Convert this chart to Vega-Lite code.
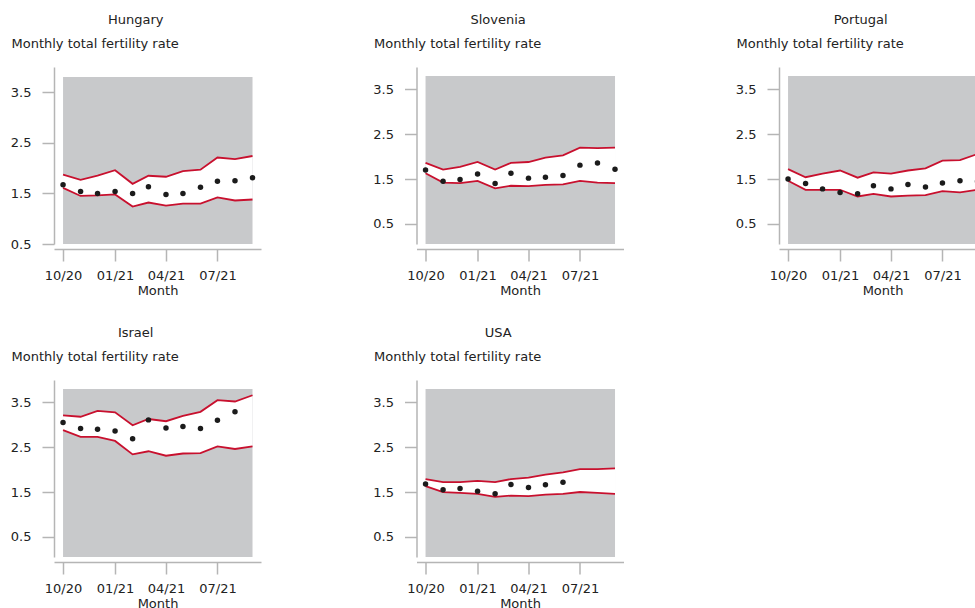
{
  "$schema": "https://vega.github.io/schema/vega-lite/v6.json",
  "padding": {"left": 10, "top": 14, "right": 0, "bottom": 0},
  "datasets": {
    "frame": [
      {"country": "Hungary", "month": "2020-10-01", "end": "2021-09-01", "lo": 0.5, "hi": 3.8},
      {"country": "Slovenia", "month": "2020-10-01", "end": "2021-09-01", "lo": 0.05, "hi": 3.8},
      {"country": "Portugal", "month": "2020-10-01", "end": "2021-09-01", "lo": 0.05, "hi": 3.8},
      {"country": "Israel", "month": "2020-10-01", "end": "2021-09-01", "lo": 0.05, "hi": 3.8},
      {"country": "USA", "month": "2020-10-01", "end": "2021-09-01", "lo": 0.05, "hi": 3.8}
    ],
    "tfr": [
      {"country": "Hungary", "month": "2020-10-01", "lower": 1.61, "upper": 1.87, "observed": 1.67},
      {"country": "Hungary", "month": "2020-11-01", "lower": 1.45, "upper": 1.77, "observed": 1.54},
      {"country": "Hungary", "month": "2020-12-01", "lower": 1.46, "upper": 1.85, "observed": 1.50},
      {"country": "Hungary", "month": "2021-01-01", "lower": 1.48, "upper": 1.96, "observed": 1.54},
      {"country": "Hungary", "month": "2021-02-01", "lower": 1.24, "upper": 1.69, "observed": 1.50},
      {"country": "Hungary", "month": "2021-03-01", "lower": 1.32, "upper": 1.85, "observed": 1.63},
      {"country": "Hungary", "month": "2021-04-01", "lower": 1.26, "upper": 1.83, "observed": 1.48},
      {"country": "Hungary", "month": "2021-05-01", "lower": 1.30, "upper": 1.94, "observed": 1.50},
      {"country": "Hungary", "month": "2021-06-01", "lower": 1.30, "upper": 1.97, "observed": 1.62},
      {"country": "Hungary", "month": "2021-07-01", "lower": 1.42, "upper": 2.21, "observed": 1.74},
      {"country": "Hungary", "month": "2021-08-01", "lower": 1.36, "upper": 2.18, "observed": 1.75},
      {"country": "Hungary", "month": "2021-09-01", "lower": 1.38, "upper": 2.24, "observed": 1.81},

      {"country": "Slovenia", "month": "2020-10-01", "lower": 1.63, "upper": 1.86, "observed": 1.70},
      {"country": "Slovenia", "month": "2020-11-01", "lower": 1.42, "upper": 1.71, "observed": 1.45},
      {"country": "Slovenia", "month": "2020-12-01", "lower": 1.41, "upper": 1.77, "observed": 1.49},
      {"country": "Slovenia", "month": "2021-01-01", "lower": 1.46, "upper": 1.88, "observed": 1.61},
      {"country": "Slovenia", "month": "2021-02-01", "lower": 1.29, "upper": 1.71, "observed": 1.40},
      {"country": "Slovenia", "month": "2021-03-01", "lower": 1.35, "upper": 1.86, "observed": 1.63},
      {"country": "Slovenia", "month": "2021-04-01", "lower": 1.34, "upper": 1.88, "observed": 1.52},
      {"country": "Slovenia", "month": "2021-05-01", "lower": 1.37, "upper": 1.98, "observed": 1.54},
      {"country": "Slovenia", "month": "2021-06-01", "lower": 1.38, "upper": 2.03, "observed": 1.58},
      {"country": "Slovenia", "month": "2021-07-01", "lower": 1.46, "upper": 2.20, "observed": 1.81},
      {"country": "Slovenia", "month": "2021-08-01", "lower": 1.42, "upper": 2.19, "observed": 1.86},
      {"country": "Slovenia", "month": "2021-09-01", "lower": 1.41, "upper": 2.20, "observed": 1.72},

      {"country": "Portugal", "month": "2020-10-01", "lower": 1.46, "upper": 1.72, "observed": 1.50},
      {"country": "Portugal", "month": "2020-11-01", "lower": 1.26, "upper": 1.54, "observed": 1.40},
      {"country": "Portugal", "month": "2020-12-01", "lower": 1.26, "upper": 1.62, "observed": 1.28},
      {"country": "Portugal", "month": "2021-01-01", "lower": 1.26, "upper": 1.69, "observed": 1.20},
      {"country": "Portugal", "month": "2021-02-01", "lower": 1.11, "upper": 1.53, "observed": 1.17},
      {"country": "Portugal", "month": "2021-03-01", "lower": 1.17, "upper": 1.65, "observed": 1.35},
      {"country": "Portugal", "month": "2021-04-01", "lower": 1.11, "upper": 1.62, "observed": 1.28},
      {"country": "Portugal", "month": "2021-05-01", "lower": 1.13, "upper": 1.69, "observed": 1.38},
      {"country": "Portugal", "month": "2021-06-01", "lower": 1.14, "upper": 1.74, "observed": 1.32},
      {"country": "Portugal", "month": "2021-07-01", "lower": 1.23, "upper": 1.91, "observed": 1.41},
      {"country": "Portugal", "month": "2021-08-01", "lower": 1.20, "upper": 1.92, "observed": 1.46},
      {"country": "Portugal", "month": "2021-09-01", "lower": 1.26, "upper": 2.06, "observed": 1.45},

      {"country": "Israel", "month": "2020-10-01", "lower": 2.88, "upper": 3.21, "observed": 3.05},
      {"country": "Israel", "month": "2020-11-01", "lower": 2.73, "upper": 3.18, "observed": 2.92},
      {"country": "Israel", "month": "2020-12-01", "lower": 2.73, "upper": 3.31, "observed": 2.90},
      {"country": "Israel", "month": "2021-01-01", "lower": 2.64, "upper": 3.28, "observed": 2.86},
      {"country": "Israel", "month": "2021-02-01", "lower": 2.34, "upper": 2.99, "observed": 2.69},
      {"country": "Israel", "month": "2021-03-01", "lower": 2.41, "upper": 3.13, "observed": 3.11},
      {"country": "Israel", "month": "2021-04-01", "lower": 2.31, "upper": 3.08, "observed": 2.93},
      {"country": "Israel", "month": "2021-05-01", "lower": 2.36, "upper": 3.20, "observed": 2.96},
      {"country": "Israel", "month": "2021-06-01", "lower": 2.37, "upper": 3.29, "observed": 2.92},
      {"country": "Israel", "month": "2021-07-01", "lower": 2.52, "upper": 3.55, "observed": 3.10},
      {"country": "Israel", "month": "2021-08-01", "lower": 2.46, "upper": 3.52, "observed": 3.29},
      {"country": "Israel", "month": "2021-09-01", "lower": 2.52, "upper": 3.66, "observed": null},

      {"country": "USA", "month": "2020-10-01", "lower": 1.63, "upper": 1.79, "observed": 1.68},
      {"country": "USA", "month": "2020-11-01", "lower": 1.50, "upper": 1.72, "observed": 1.55},
      {"country": "USA", "month": "2020-12-01", "lower": 1.48, "upper": 1.72, "observed": 1.58},
      {"country": "USA", "month": "2021-01-01", "lower": 1.46, "upper": 1.75, "observed": 1.52},
      {"country": "USA", "month": "2021-02-01", "lower": 1.39, "upper": 1.72, "observed": 1.46},
      {"country": "USA", "month": "2021-03-01", "lower": 1.42, "upper": 1.79, "observed": 1.67},
      {"country": "USA", "month": "2021-04-01", "lower": 1.41, "upper": 1.82, "observed": 1.60},
      {"country": "USA", "month": "2021-05-01", "lower": 1.44, "upper": 1.89, "observed": 1.66},
      {"country": "USA", "month": "2021-06-01", "lower": 1.46, "upper": 1.94, "observed": 1.72},
      {"country": "USA", "month": "2021-07-01", "lower": 1.50, "upper": 2.01, "observed": null},
      {"country": "USA", "month": "2021-08-01", "lower": 1.48, "upper": 2.01, "observed": null},
      {"country": "USA", "month": "2021-09-01", "lower": 1.46, "upper": 2.03, "observed": null}
    ]
  },
  "columns": 3,
  "bounds": "flush",
  "spacing": {"row": 136, "column": 155.5},
  "concat": [
    {
      "title": "Hungary",
      "width": 207, "height": 177,
      "data": {"name": "tfr"},
      "transform": [{"filter": "datum.country === 'Hungary'"}],
      "encoding": {
        "x": {"field": "month", "type": "temporal",
              "scale": {"type": "utc", "domain": [{"year": 2020, "month": 9, "date": 15, "utc": true}, {"year": 2021, "month": 9, "date": 16, "utc": true}]},
              "axis": {"title": "Month", "format": "%m/%y", "values": [{"year": 2020, "month": 10, "date": 1, "utc": true}, {"year": 2021, "month": 1, "date": 1, "utc": true}, {"year": 2021, "month": 4, "date": 1, "utc": true}, {"year": 2021, "month": 7, "date": 1, "utc": true}]}},
        "y": {"field": "lower", "type": "quantitative", "scale": {"domain": [0.5, 4]},
              "axis": {"title": "Monthly total fertility rate", "values": [0.5, 1.5, 2.5, 3.5], "format": ".1f"}}
      },
      "layer": [
        {"data": {"name": "frame"}, "transform": [{"filter": "datum.country === 'Hungary'"}],
         "mark": {"type": "rect", "color": "#c8c9cb"},
         "encoding": {"x2": {"field": "end"}, "y": {"field": "lo", "type": "quantitative"}, "y2": {"field": "hi"}}},
        {"mark": {"type": "area", "color": "#ffffff", "opacity": 1}, "encoding": {"y2": {"field": "upper"}}},
        {"mark": {"type": "line", "color": "#c8102e", "strokeWidth": 1.8}, "encoding": {}},
        {"mark": {"type": "line", "color": "#c8102e", "strokeWidth": 1.8}, "encoding": {"y": {"field": "upper", "type": "quantitative"}}},
        {"transform": [{"filter": "isValid(datum.observed)"}],
         "mark": {"type": "circle", "size": 30, "color": "#1b1b1b", "opacity": 1},
         "encoding": {"y": {"field": "observed", "type": "quantitative"}}}
      ]
    },
    {
      "title": "Slovenia",
      "width": 207, "height": 177,
      "data": {"name": "tfr"},
      "transform": [{"filter": "datum.country === 'Slovenia'"}],
      "encoding": {
        "x": {"field": "month", "type": "temporal",
              "scale": {"type": "utc", "domain": [{"year": 2020, "month": 9, "date": 15, "utc": true}, {"year": 2021, "month": 9, "date": 16, "utc": true}]},
              "axis": {"title": "Month", "format": "%m/%y", "values": [{"year": 2020, "month": 10, "date": 1, "utc": true}, {"year": 2021, "month": 1, "date": 1, "utc": true}, {"year": 2021, "month": 4, "date": 1, "utc": true}, {"year": 2021, "month": 7, "date": 1, "utc": true}]}},
        "y": {"field": "lower", "type": "quantitative", "scale": {"domain": [0.05, 4]},
              "axis": {"title": "Monthly total fertility rate", "values": [0.5, 1.5, 2.5, 3.5], "format": ".1f"}}
      },
      "layer": [
        {"data": {"name": "frame"}, "transform": [{"filter": "datum.country === 'Slovenia'"}],
         "mark": {"type": "rect", "color": "#c8c9cb"},
         "encoding": {"x2": {"field": "end"}, "y": {"field": "lo", "type": "quantitative"}, "y2": {"field": "hi"}}},
        {"mark": {"type": "area", "color": "#ffffff", "opacity": 1}, "encoding": {"y2": {"field": "upper"}}},
        {"mark": {"type": "line", "color": "#c8102e", "strokeWidth": 1.8}, "encoding": {}},
        {"mark": {"type": "line", "color": "#c8102e", "strokeWidth": 1.8}, "encoding": {"y": {"field": "upper", "type": "quantitative"}}},
        {"transform": [{"filter": "isValid(datum.observed)"}],
         "mark": {"type": "circle", "size": 30, "color": "#1b1b1b", "opacity": 1},
         "encoding": {"y": {"field": "observed", "type": "quantitative"}}}
      ]
    },
    {
      "title": "Portugal",
      "width": 207, "height": 177,
      "data": {"name": "tfr"},
      "transform": [{"filter": "datum.country === 'Portugal'"}],
      "encoding": {
        "x": {"field": "month", "type": "temporal",
              "scale": {"type": "utc", "domain": [{"year": 2020, "month": 9, "date": 15, "utc": true}, {"year": 2021, "month": 9, "date": 16, "utc": true}]},
              "axis": {"title": "Month", "format": "%m/%y", "values": [{"year": 2020, "month": 10, "date": 1, "utc": true}, {"year": 2021, "month": 1, "date": 1, "utc": true}, {"year": 2021, "month": 4, "date": 1, "utc": true}, {"year": 2021, "month": 7, "date": 1, "utc": true}]}},
        "y": {"field": "lower", "type": "quantitative", "scale": {"domain": [0.05, 4]},
              "axis": {"title": "Monthly total fertility rate", "values": [0.5, 1.5, 2.5, 3.5], "format": ".1f"}}
      },
      "layer": [
        {"data": {"name": "frame"}, "transform": [{"filter": "datum.country === 'Portugal'"}],
         "mark": {"type": "rect", "color": "#c8c9cb"},
         "encoding": {"x2": {"field": "end"}, "y": {"field": "lo", "type": "quantitative"}, "y2": {"field": "hi"}}},
        {"mark": {"type": "area", "color": "#ffffff", "opacity": 1}, "encoding": {"y2": {"field": "upper"}}},
        {"mark": {"type": "line", "color": "#c8102e", "strokeWidth": 1.8}, "encoding": {}},
        {"mark": {"type": "line", "color": "#c8102e", "strokeWidth": 1.8}, "encoding": {"y": {"field": "upper", "type": "quantitative"}}},
        {"transform": [{"filter": "isValid(datum.observed)"}],
         "mark": {"type": "circle", "size": 30, "color": "#1b1b1b", "opacity": 1},
         "encoding": {"y": {"field": "observed", "type": "quantitative"}}}
      ]
    },
    {
      "title": "Israel",
      "width": 207, "height": 177,
      "data": {"name": "tfr"},
      "transform": [{"filter": "datum.country === 'Israel'"}],
      "encoding": {
        "x": {"field": "month", "type": "temporal",
              "scale": {"type": "utc", "domain": [{"year": 2020, "month": 9, "date": 15, "utc": true}, {"year": 2021, "month": 9, "date": 16, "utc": true}]},
              "axis": {"title": "Month", "format": "%m/%y", "values": [{"year": 2020, "month": 10, "date": 1, "utc": true}, {"year": 2021, "month": 1, "date": 1, "utc": true}, {"year": 2021, "month": 4, "date": 1, "utc": true}, {"year": 2021, "month": 7, "date": 1, "utc": true}]}},
        "y": {"field": "lower", "type": "quantitative", "scale": {"domain": [0.05, 4]},
              "axis": {"title": "Monthly total fertility rate", "values": [0.5, 1.5, 2.5, 3.5], "format": ".1f"}}
      },
      "layer": [
        {"data": {"name": "frame"}, "transform": [{"filter": "datum.country === 'Israel'"}],
         "mark": {"type": "rect", "color": "#c8c9cb"},
         "encoding": {"x2": {"field": "end"}, "y": {"field": "lo", "type": "quantitative"}, "y2": {"field": "hi"}}},
        {"mark": {"type": "area", "color": "#ffffff", "opacity": 1}, "encoding": {"y2": {"field": "upper"}}},
        {"mark": {"type": "line", "color": "#c8102e", "strokeWidth": 1.8}, "encoding": {}},
        {"mark": {"type": "line", "color": "#c8102e", "strokeWidth": 1.8}, "encoding": {"y": {"field": "upper", "type": "quantitative"}}},
        {"transform": [{"filter": "isValid(datum.observed)"}],
         "mark": {"type": "circle", "size": 30, "color": "#1b1b1b", "opacity": 1},
         "encoding": {"y": {"field": "observed", "type": "quantitative"}}}
      ]
    },
    {
      "title": "USA",
      "width": 207, "height": 177,
      "data": {"name": "tfr"},
      "transform": [{"filter": "datum.country === 'USA'"}],
      "encoding": {
        "x": {"field": "month", "type": "temporal",
              "scale": {"type": "utc", "domain": [{"year": 2020, "month": 9, "date": 15, "utc": true}, {"year": 2021, "month": 9, "date": 16, "utc": true}]},
              "axis": {"title": "Month", "format": "%m/%y", "values": [{"year": 2020, "month": 10, "date": 1, "utc": true}, {"year": 2021, "month": 1, "date": 1, "utc": true}, {"year": 2021, "month": 4, "date": 1, "utc": true}, {"year": 2021, "month": 7, "date": 1, "utc": true}]}},
        "y": {"field": "lower", "type": "quantitative", "scale": {"domain": [0.05, 4]},
              "axis": {"title": "Monthly total fertility rate", "values": [0.5, 1.5, 2.5, 3.5], "format": ".1f"}}
      },
      "layer": [
        {"data": {"name": "frame"}, "transform": [{"filter": "datum.country === 'USA'"}],
         "mark": {"type": "rect", "color": "#c8c9cb"},
         "encoding": {"x2": {"field": "end"}, "y": {"field": "lo", "type": "quantitative"}, "y2": {"field": "hi"}}},
        {"mark": {"type": "area", "color": "#ffffff", "opacity": 1}, "encoding": {"y2": {"field": "upper"}}},
        {"mark": {"type": "line", "color": "#c8102e", "strokeWidth": 1.8}, "encoding": {}},
        {"mark": {"type": "line", "color": "#c8102e", "strokeWidth": 1.8}, "encoding": {"y": {"field": "upper", "type": "quantitative"}}},
        {"transform": [{"filter": "isValid(datum.observed)"}],
         "mark": {"type": "circle", "size": 30, "color": "#1b1b1b", "opacity": 1},
         "encoding": {"y": {"field": "observed", "type": "quantitative"}}}
      ]
    }
  ],
  "config": {
    "font": "DejaVu Sans",
    "view": {"stroke": null},
    "axis": {
      "grid": false,
      "domainColor": "#b5b5b5", "domainWidth": 1.5,
      "tickColor": "#b5b5b5", "tickWidth": 1.5, "tickSize": 12,
      "labelFont": "DejaVu Sans", "labelFontSize": 13, "labelColor": "#222222", "labelFlush": false,
      "titleFont": "DejaVu Sans", "titleFontSize": 13, "titleColor": "#222222", "titleFontWeight": "normal"
    },
    "axisX": {"offset": 5, "labelPadding": 8, "titlePadding": 2},
    "axisY": {"labelPadding": 11, "titleAngle": 0, "titleAlign": "left", "titleBaseline": "alphabetic", "titleX": -43, "titleY": -20},
    "title": {"font": "DejaVu Sans", "fontSize": 13, "fontWeight": "normal", "color": "#222222", "anchor": "middle", "frame": "bounds", "offset": 10, "baseline": "alphabetic"}
  }
}
